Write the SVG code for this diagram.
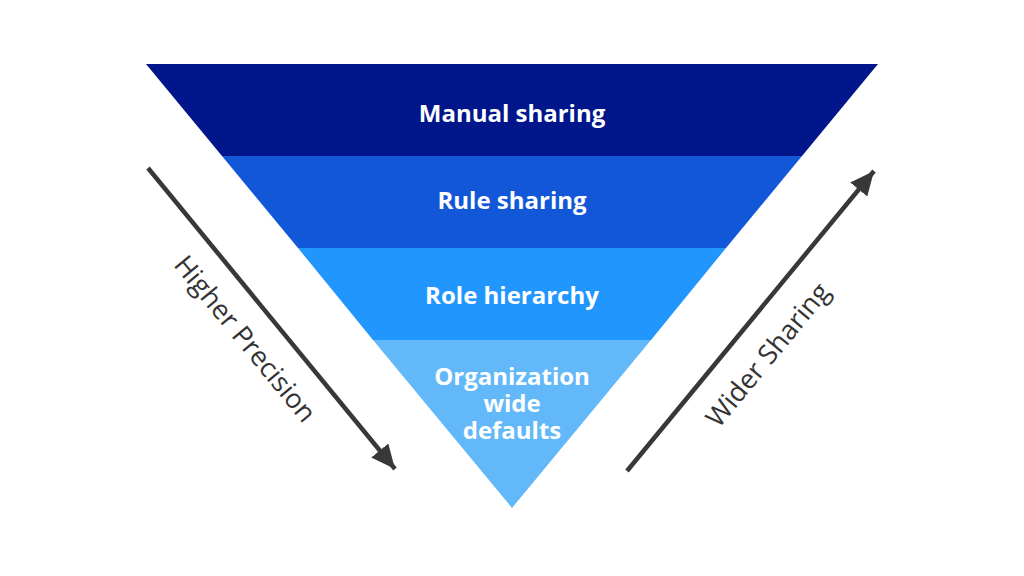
<svg xmlns="http://www.w3.org/2000/svg" width="1024" height="576" viewBox="0 0 1024 576">
  <defs>
    <style>
      .lbl { font-family: "Open Sans", "Liberation Sans", sans-serif; font-weight: 700; font-size: 24px; fill: #ffffff; text-anchor: middle; }
      .side { font-family: "Open Sans", "Liberation Sans", sans-serif; font-size: 27px; fill: #333333; text-anchor: middle; }
      .arrow { stroke: #383838; stroke-width: 4.5; fill: none; }
    </style>
    <marker id="head" markerUnits="userSpaceOnUse" markerWidth="26" markerHeight="22" refX="24" refY="11" orient="auto">
      <path d="M0,0 L24,11 L0,22 Z" fill="#383838"/>
    </marker>
  </defs>
  <rect width="1024" height="576" fill="#ffffff"/>
  <g id="band-manual">
    <polygon points="146,64 878,64 802,156 222,156" fill="#00168A"/>
    <text class="lbl" x="512" y="122">Manual sharing</text>
  </g>
  <g id="band-rule">
    <polygon points="222,156 802,156 726,248 298,248" fill="#1157D8"/>
    <text class="lbl" x="512" y="209">Rule sharing</text>
  </g>
  <g id="band-role">
    <polygon points="298,248 726,248 651,340 373,340" fill="#2196FE"/>
    <text class="lbl" x="512" y="304">Role hierarchy</text>
  </g>
  <g id="band-org">
    <polygon points="373,340 651,340 512,508" fill="#62B8F9"/>
    <text class="lbl" x="512" y="385">Organization<tspan x="512" dy="27">wide</tspan><tspan x="512" dy="27">defaults</tspan></text>
  </g>
  <g id="connectors">
    <line class="arrow" x1="148" y1="168" x2="395" y2="469" marker-end="url(#head)"/>
    <line class="arrow" x1="627" y1="471" x2="874" y2="171" marker-end="url(#head)"/>
  </g>
  <g id="label-precision">
    <text class="side" transform="translate(245,339) rotate(50.6)" y="9">Higher Precision</text>
  </g>
  <g id="label-sharing">
    <text class="side" transform="translate(768,355) rotate(-50.5)" y="9">Wider Sharing</text>
  </g>
</svg>
